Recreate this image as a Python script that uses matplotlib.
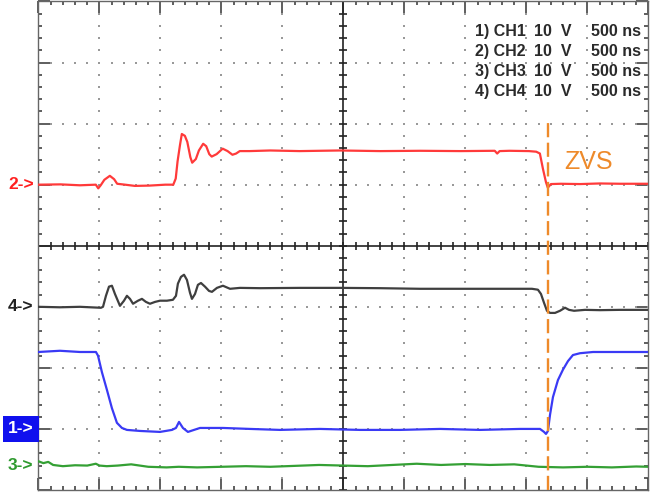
import matplotlib
matplotlib.use("Agg")
import matplotlib.pyplot as plt
import numpy as np
from matplotlib.ticker import MultipleLocator

# scope settings: 10 V/div, 500 ns/div, 10 x 8 divisions
volts_per_div = 10
ns_per_div = 500

# channel ground markers (divisions from screen centre)
ch_offset = {"CH1": -3.0, "CH2": 1.0, "CH3": -3.6, "CH4": -1.0}

# CH2 (red)
ch2_t = [0, 180, 340, 470, 490, 510, 540, 585, 620, 645, 710, 790, 910, 1040, 1105,
         1125, 1140, 1160, 1175, 1200, 1220, 1245, 1260, 1290, 1315, 1350, 1375, 1400,
         1420, 1460, 1510, 1550, 1590, 1620, 1650, 1730, 1900, 2140, 2470, 2800, 3130,
         3460, 3740, 3760, 3780, 3860, 4020, 4080, 4110, 4135, 4160, 4175, 4200, 4280,
         4440, 4600, 4770, 5000]
ch2_v = [0, 0.05, -0.1, 0, -0.6, -0.1, 0.8, 1.45, 0.9, 0.15, 0, -0.2, -0.15, 0, 0,
         1.0, 3.8, 6.5, 8.3, 8.0, 7.0, 4.5, 3.6, 4.2, 5.6, 6.7, 6.3, 5.0,
         4.6, 5.0, 5.9, 5.5, 4.9, 5.1, 5.5, 5.5, 5.6, 5.5, 5.6, 5.5, 5.55,
         5.5, 5.55, 5.1, 5.5, 5.55, 5.5, 5.4, 5.1, 2.6, 0.4, -0.5, 0.1, 0.15,
         0.1, 0.2, 0.15, 0.15]

# CH4 (black)
ch4_t = [0, 176, 340, 512, 529, 553, 578, 602, 627, 668, 701, 725, 750, 775, 816, 848,
         881, 914, 955, 996, 1053, 1102, 1127, 1143, 1168, 1193, 1217, 1242, 1258, 1283,
         1307, 1332, 1365, 1398, 1422, 1463, 1512, 1570, 1652, 1816, 2143, 2471, 2799,
         3127, 3455, 3783, 4045, 4094, 4119, 4144, 4168, 4193, 4234, 4275, 4316, 4349,
         4390, 4480, 4603, 4767, 5000]
ch4_v = [0, -0.08, 0, -0.16, 0, 1.8, 3.3, 3.45, 2.1, 0.16, 1.0, 1.8, 1.3, 0.5, 1.0, 1.3,
         0.8, 0.5, 0.8, 1.0, 1.0, 1.15, 1.8, 3.8, 4.9, 5.25, 4.4, 2.3, 1.3, 2.1,
         3.6, 3.9, 3.3, 2.6, 2.45, 3.1, 3.45, 2.95, 3.1, 3.05, 3.1, 3.1, 3.05,
         2.95, 2.95, 2.95, 2.95, 2.8, 2.1, 0.65, -0.65, -1.0, -1.0, -0.65, -0.15, -0.5,
         -0.65, -0.5, -0.55, -0.5, -0.5]

# CH1 (blue)
ch1_t = [0, 176, 340, 471, 488, 520, 561, 602, 643, 684, 725, 832, 996, 1094, 1127,
         1152, 1184, 1225, 1275, 1324, 1512, 1734, 1980, 2307, 2635, 2963, 3291, 3619,
         3947, 4111, 4144, 4160, 4176, 4193, 4217, 4258, 4299, 4340, 4381, 4439, 4546,
         4767, 5000]
ch1_v = [12.6, 12.8, 12.6, 12.6, 12.0, 9.3, 6.4, 3.4, 1.0, 0.16, -0.16, -0.33, -0.49, -0.16, 0.16,
         1.15, 0.16, -0.49, -0.16, 0.16, 0.16, 0, -0.16, 0, -0.16, -0.16, 0, -0.16,
         0, 0, -0.49, -0.82, -0.33, 2.3, 5.2, 8.0, 9.7, 11.1, 12.1, 12.4, 12.6,
         12.6, 12.6]

# CH3 (green)
ch3_t = [0, 40, 80, 120, 200, 300, 400, 470, 500, 560, 650, 760, 900, 1050, 1150, 1300,
         1500, 1700, 1900, 2100, 2300, 2500, 2700, 2900, 3100, 3300, 3500, 3700, 3900,
         4100, 4300, 4500, 4700, 4900, 5000]
ch3_v = [0.7, 0.4, 0.6, 0.1, -0.1, 0.05, 0.0, 0.3, 0.0, -0.1, 0.0, 0.2, -0.2, -0.3, -0.2, -0.3,
         -0.2, -0.1, -0.2, -0.05, 0.1, 0.0, -0.1, 0.1, 0.3, 0.1, 0.25, 0.1, 0.2,
         -0.2, -0.3, -0.2, -0.3, -0.15, -0.2]

zvs_time = 4180

legend_rows = [("1) CH1", "10  V", "500 ns"),
               ("2) CH2", "10  V", "500 ns"),
               ("3) CH3", "10  V", "500 ns"),
               ("4) CH4", "10  V", "500 ns")]

fig = plt.figure(figsize=(6.51, 4.97), dpi=100)
ax = fig.add_axes([0.0591, 0.0141, 0.9370, 0.9829])
ax.set_xlim(0, 10 * ns_per_div)
ax.set_ylim(-4, 4)

#frame ticks like the scope graticule
ax.xaxis.set_major_locator(MultipleLocator(ns_per_div))
ax.xaxis.set_minor_locator(MultipleLocator(ns_per_div / 5))
ax.yaxis.set_major_locator(MultipleLocator(1))
ax.yaxis.set_minor_locator(MultipleLocator(0.2))
ax.tick_params(which="both", direction="in", top=True, right=True,
               labelbottom=False, labelleft=False, color="#333333", width=1.1)
ax.tick_params(which="major", length=8.5)
ax.tick_params(which="minor", length=3.2)
for sp in ax.spines.values():
    sp.set_color("#666666")
    sp.set_linewidth(1.0)

#dotted grid
dot_x = np.arange(0, 10 * ns_per_div + 1, ns_per_div / 5)
dot_y = np.arange(-4, 4.01, 0.2)
for i in range(1, 10):
    if i == 5:
        continue
    ax.plot(np.full(len(dot_y), i * ns_per_div), dot_y, ls="none", marker="s",
            ms=1.6, color="#999999", mew=0)
for j in range(-3, 4):
    if j == 0:
        continue
    ax.plot(dot_x, np.full(len(dot_x), j), ls="none", marker="s",
            ms=1.6, color="#999999", mew=0)

#centre cross with ticks
ax.axhline(0, color="#222222", lw=1.2)
ax.axvline(5 * ns_per_div, color="#222222", lw=1.2)
ax.plot(np.full(len(dot_y), 5 * ns_per_div), dot_y, ls="none", marker="_",
        ms=6, mew=1.2, color="#222222")
ax.plot(dot_x, np.zeros(len(dot_x)), ls="none", marker="|",
        ms=6, mew=1.2, color="#222222")

#traces
def plot_ch(t, v, off, color):
    ax.plot(t, np.array(v) / volts_per_div + off, color=color, lw=1.6, zorder=5)

plot_ch(ch3_t, ch3_v, ch_offset["CH3"], "#34a034")
plot_ch(ch1_t, ch1_v, ch_offset["CH1"], "#3a3af5")
plot_ch(ch4_t, ch4_v, ch_offset["CH4"], "#3f3f3f")
plot_ch(ch2_t, ch2_v, ch_offset["CH2"], "#ff3a3a")

#ZVS marker
ax.axvline(zvs_time, ymin=0, ymax=0.754, color="#ee8a2a", lw=1.7,
           dashes=[6.0, 2.3], zorder=6)
ax.text(zvs_time + 130, 1.37, "ZVS", color="#ee8a2a", fontsize=18,
        family="Liberation Sans", ha="left", va="center")

#settings text
for k, (c1, c2, c3) in enumerate(legend_rows):
    y = 3.51 - k * 0.327
    kw = dict(fontsize=11.5, family="Liberation Sans", weight="bold",
              color="#2a2a2a", va="center")
    ax.text(3580, y, c1, ha="left", **kw)
    ax.text(4065, y, c2, ha="left", **kw)
    ax.text(4940, y, c3, ha="right", **kw)

#channel markers on the left
lab_kw = dict(fontsize=12.5, family="Liberation Sans", weight="bold",
              ha="right", va="center", clip_on=False)
ax.text(-40, ch_offset["CH2"], "2->", color="#ff2020", **lab_kw)
ax.text(-40, ch_offset["CH4"], "4->", color="#222222", **lab_kw)
ax.text(-40, ch_offset["CH3"], "3->", color="#2f9a2f", **lab_kw)
ax.text(-40, ch_offset["CH1"], "1->", color="white",
        bbox=dict(boxstyle="square,pad=0.3", fc="#1010ee", ec="none"), **lab_kw)

fig.savefig("out.png", dpi=100)
